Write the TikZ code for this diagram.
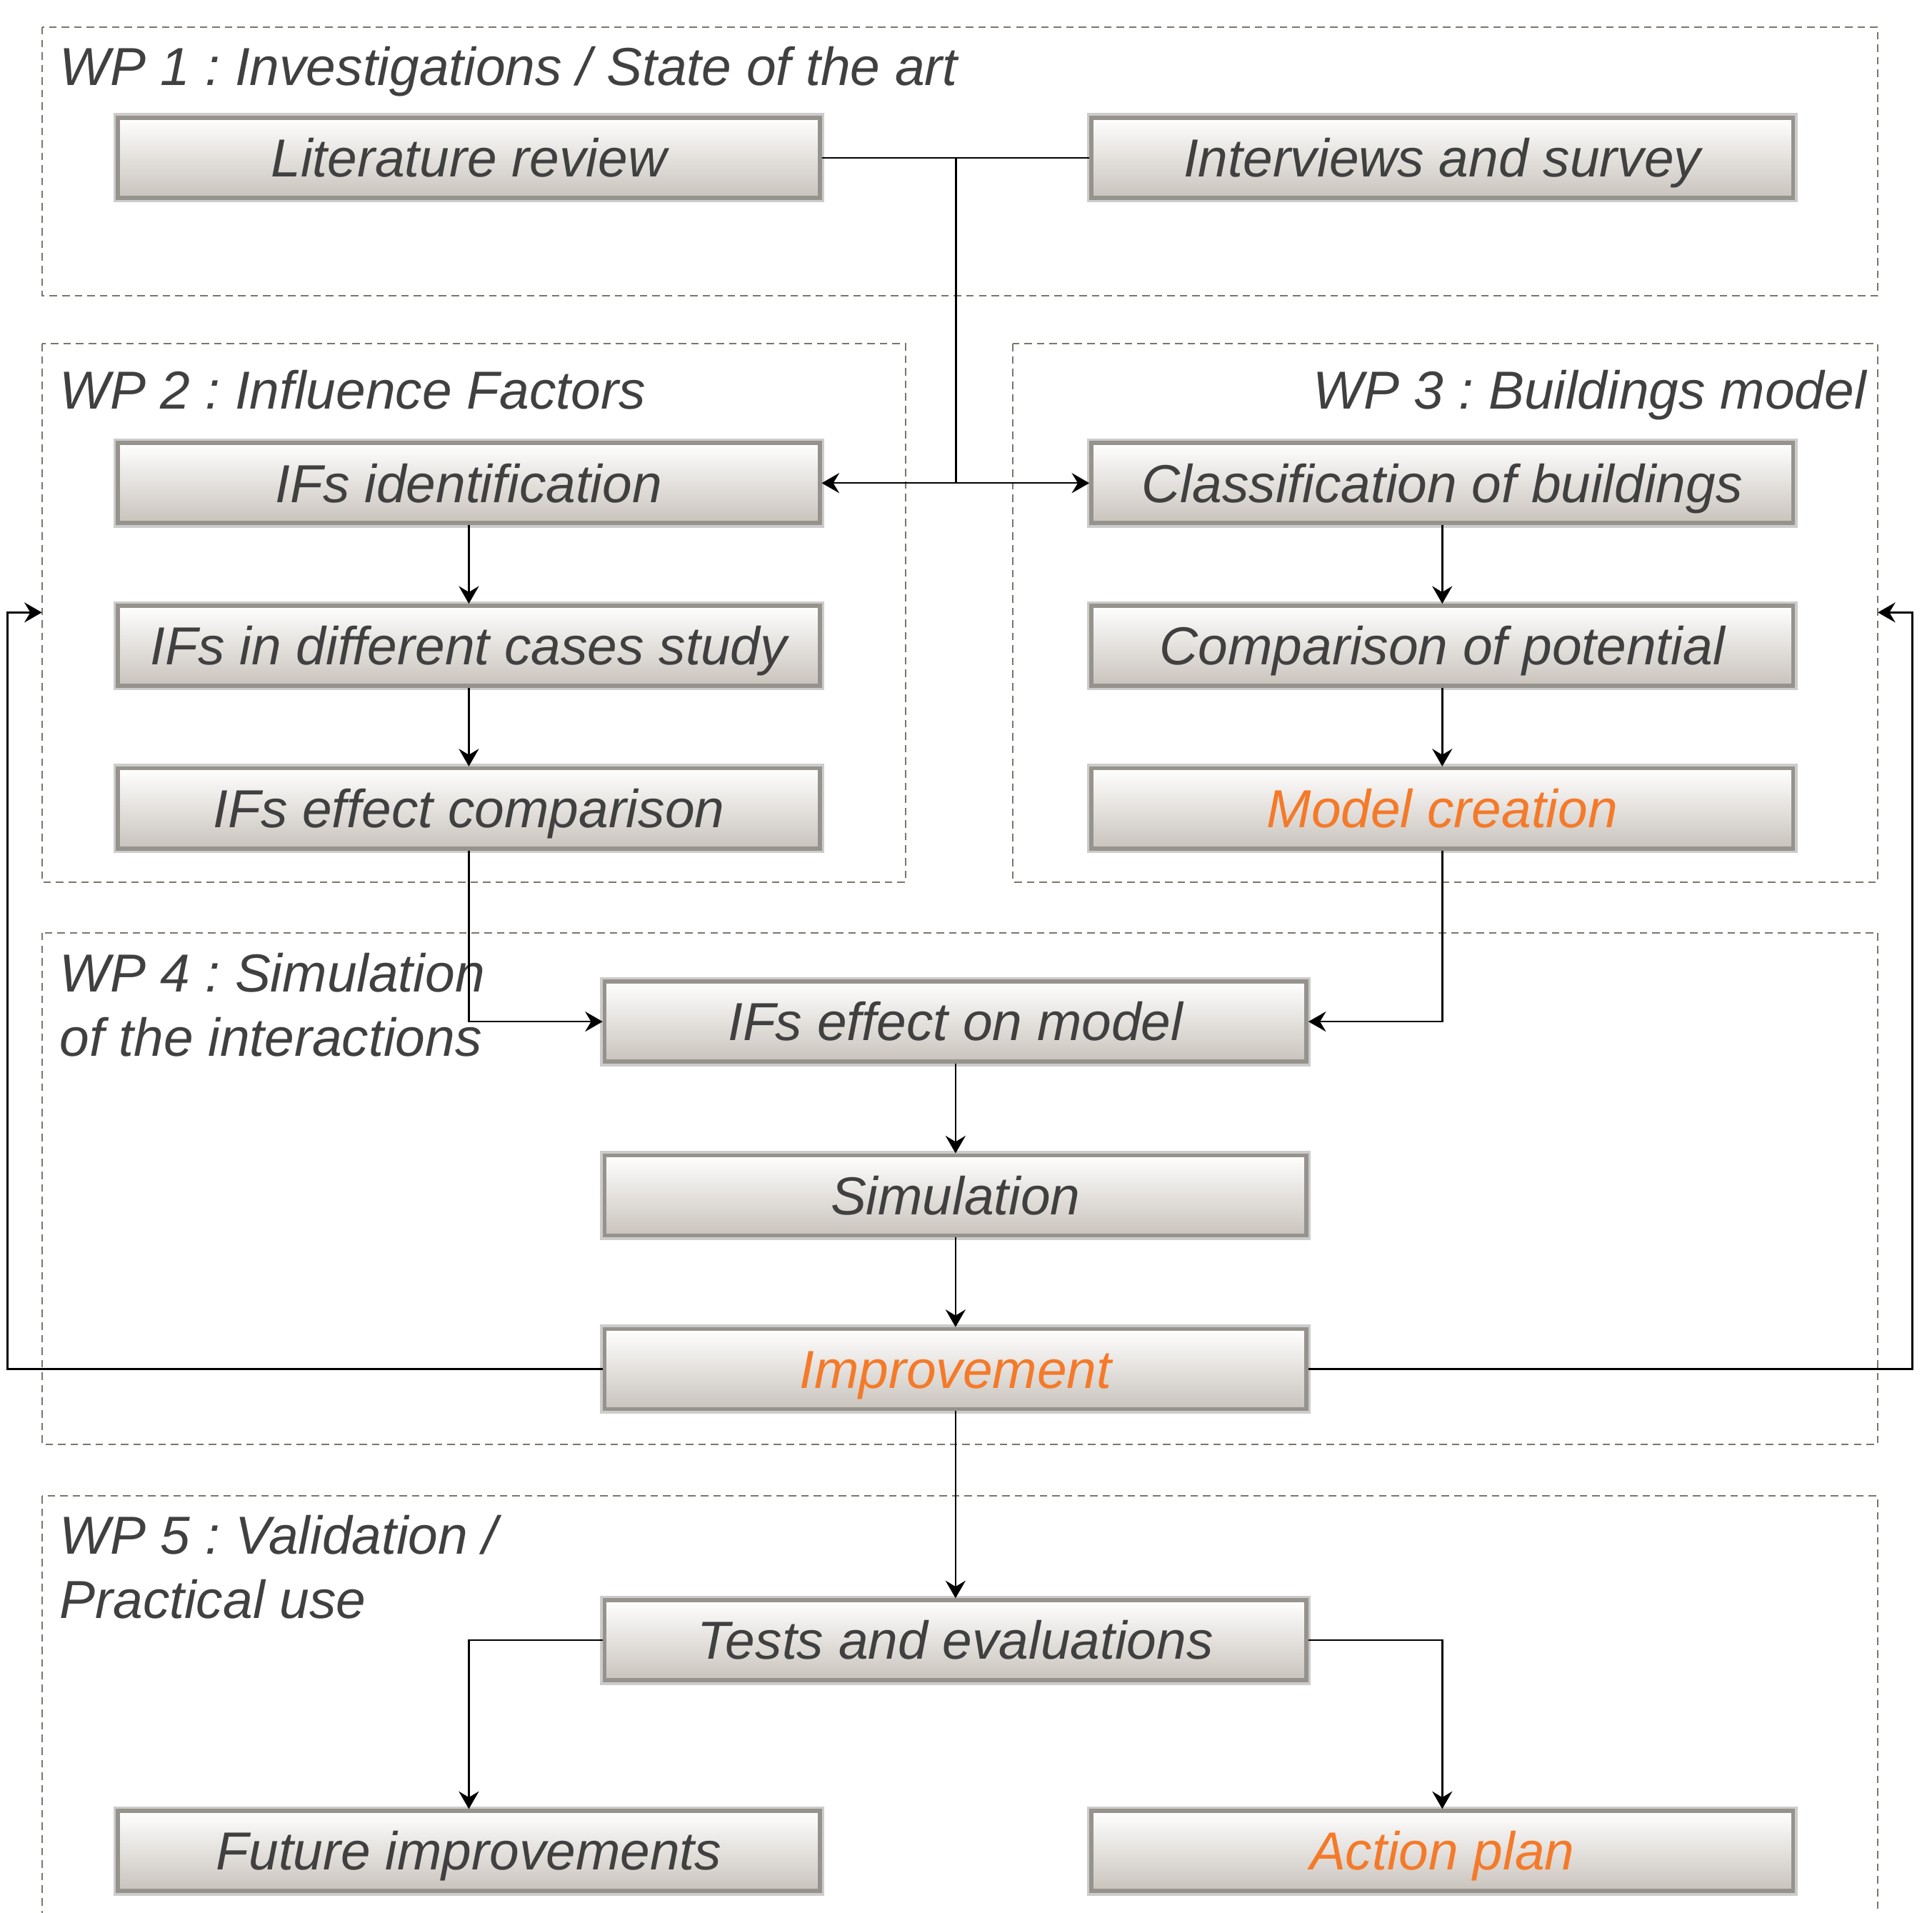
\documentclass[tikz,border=0pt]{standalone}
\usepackage{fontspec}
\setmainfont{Liberation Sans}
\usetikzlibrary{arrows.meta}
\definecolor{txt}{RGB}{64,64,64}
\definecolor{org}{RGB}{244,122,42}
\definecolor{dashc}{RGB}{125,117,107}
\definecolor{bord}{RGB}{150,146,140}
\definecolor{botc}{RGB}{201,195,188}
\frenchspacing
\begin{document}
\begin{tikzpicture}[x=0.01725cm,y=-0.01725cm,
  stepbox/.style={rectangle, minimum width=9.82cm, minimum height=1.12cm, inner sep=0pt,
    top color=white, bottom color=botc, draw=bord, line width=1.6pt,
    preaction={draw=black!20, line width=3.6pt},
    font=\fontsize{21.3}{25}\selectfont\itshape, text=txt, text height=15.25pt, text depth=0pt},
  hl/.style={text=org},
  wpbox/.style={draw=dashc, line width=0.6pt, dash pattern=on 3pt off 2pt},
  ttl/.style={inner sep=0pt, font=\fontsize{21.3}{25.5}\selectfont\itshape, text=txt, align=left},
  conn/.style={draw=black, line width=0.7pt},
  arr/.style={conn, -{Stealth[length=7pt,width=8pt,inset=2.4pt]}}
]
\clip (0,0) rectangle (1568,1552);
\fill[white] (0,0) rectangle (1568,1552);

% work package frames
\draw[wpbox] (34,22) rectangle (1524,240);
\draw[wpbox] (34,279) rectangle (735,716);
\draw[wpbox] (822,279) rectangle (1524,716);
\draw[wpbox] (34,757) rectangle (1524,1172);
\draw[wpbox] (34,1214) rectangle (1524,1620);

% titles
\node[ttl, anchor=base west] (t1) at (48,69) {WP 1 : Investigations / State of the art};
\node[ttl, anchor=base west] (t2) at (48,332) {WP 2 : Influence Factors};
\node[ttl, anchor=base east] (t3) at (1515,332) {WP 3 : Buildings model};
\node[ttl, anchor=base west] (t4) at (48,857) {WP 4 : Simulation\\of the interactions};
\node[ttl, anchor=base west] (t5) at (48,1313) {WP 5 : Validation /\\Practical use};

% boxes
\node[stepbox] (lit) at (380.5,128) {Literature review};
\node[stepbox] (int) at (1170.5,128) {Interviews and survey};
\node[stepbox] (ifid) at (380.5,392) {IFs identification};
\node[stepbox] (ifcase) at (380.5,524) {IFs in different cases study};
\node[stepbox] (ifcomp) at (380.5,656) {IFs effect comparison};
\node[stepbox] (cls) at (1170.5,392) {Classification of buildings};
\node[stepbox] (cmp) at (1170.5,524) {Comparison of potential};
\node[stepbox, hl] (mod) at (1170.5,656) {Model creation};
\node[stepbox] (ifm) at (775.5,829) {IFs effect on model};
\node[stepbox] (sim) at (775.5,970) {Simulation};
\node[stepbox, hl] (imp) at (775.5,1111) {Improvement};
\node[stepbox] (tst) at (775.5,1331) {Tests and evaluations};
\node[stepbox] (fut) at (380.5,1502) {Future improvements};
\node[stepbox, hl] (act) at (1170.5,1502) {Action plan};

% helper coordinates
\coordinate (j1) at (776,128);
\coordinate (j2) at (776,392);
\coordinate (lx) at (6,1111);
\coordinate (rx) at (1552,1111);
\coordinate (wp2in) at (34,497);
\coordinate (wp3in) at (1524,497);

% connectors
\draw[conn] (lit.east) -- (int.west);
\draw[conn] (j1) -- (j2);
\draw[arr] (j2) -- (ifid.east);
\draw[arr] (j2) -- (cls.west);
\draw[arr] (ifid) -- (ifcase);
\draw[arr] (ifcase) -- (ifcomp);
\draw[arr] (cls) -- (cmp);
\draw[arr] (cmp) -- (mod);
\draw[arr] (ifcomp.south) |- (ifm.west);
\draw[arr] (mod.south) |- (ifm.east);
\draw[arr] (ifm) -- (sim);
\draw[arr] (sim) -- (imp);
\draw[arr] (imp.west) -- (lx) |- (wp2in);
\draw[arr] (imp.east) -- (rx) |- (wp3in);
\draw[arr] (imp) -- (tst);
\draw[arr] (tst.west) -| (fut.north);
\draw[arr] (tst.east) -| (act.north);
\end{tikzpicture}
\end{document}
